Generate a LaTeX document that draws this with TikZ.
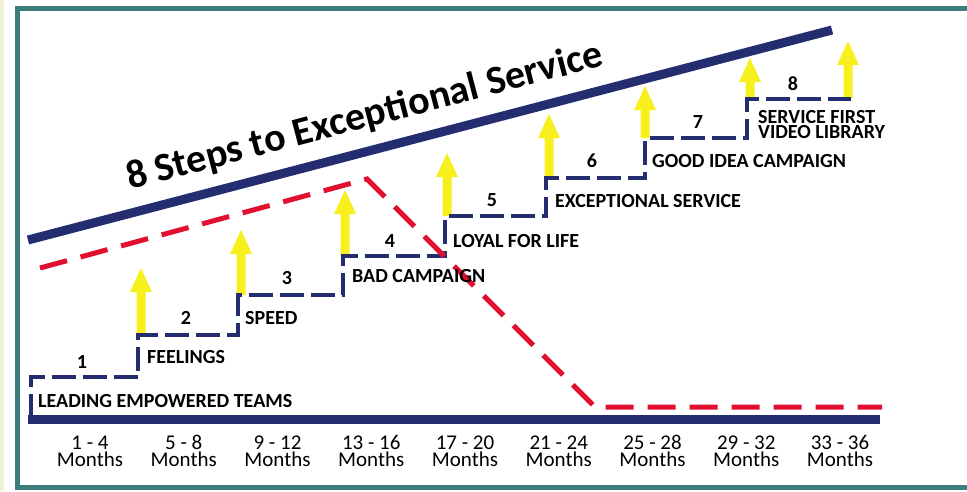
\documentclass[tikz,border=0pt]{standalone}
\usepackage{fontspec}
\setmainfont{Carlito}
\definecolor{navy}{RGB}{35,45,112}
\definecolor{framet}{RGB}{58,125,122}
\definecolor{beige}{RGB}{242,240,212}
\definecolor{redd}{RGB}{226,16,48}
\definecolor{ylw}{RGB}{248,240,30}
\begin{document}
\begin{tikzpicture}[x=1pt,y=-1pt,
  steplbl/.style={font=\bfseries\fontsize{20}{15}\selectfont, anchor=west, inner sep=0pt, text=black},
  stepnum/.style={font=\bfseries\fontsize{20}{20}\selectfont, inner sep=0pt, text=black},
  monthlbl/.style={font=\fontsize{21}{20}\selectfont, inner sep=0pt, align=center, text=black},
  stairs/.style={draw=navy, line width=4pt, dash pattern=on 24pt off 7pt},
  reddash/.style={draw=redd, line width=5pt, dash pattern=on 28pt off 14pt},
  bar/.style={draw=navy, line width=9pt}]
\useasboundingbox (0,0) rectangle (967,491);
\fill[beige] (0,0) rectangle (4,491);
\begin{scope}
  \clip (0,0) rectangle (967,491);
  \draw[framet, line width=5pt] (17.5,8.5) rectangle (995,487.5);
\end{scope}

% top line
\coordinate (tl) at (28,240);
\coordinate (tr) at (832,30);
\draw[navy, line width=9pt] (tl) -- (tr);

% title
\node[rotate=14.7, font=\bfseries\fontsize{40}{40}\selectfont, inner sep=0pt] (title) at (365,117) {8 Steps to Exceptional Service};

% yellow arrows
\foreach \x/\b/\t in {141/335/268, 241/295/230, 345/256/190, 447/216/153, 549/178/114, 645/138/86, 750/99/58, 848/99/41}{
  \fill[ylw] (\x-4.5,\b) -- (\x-4.5,\t+24) -- (\x-11,\t+24) -- (\x,\t) -- (\x+11,\t+24) -- (\x+4.5,\t+24) -- (\x+4.5,\b) -- cycle;
}

% staircase
\coordinate (s0) at (30.5,418);
\coordinate (s1a) at (30.5,377);
\coordinate (s1b) at (138,377);
\coordinate (s2a) at (138,335);
\coordinate (s2b) at (238,335);
\coordinate (s3a) at (238,295);
\coordinate (s3b) at (343,295);
\coordinate (s4a) at (343,256);
\coordinate (s4b) at (445,256);
\coordinate (s5a) at (445,216);
\coordinate (s5b) at (546,216);
\coordinate (s6a) at (546,178);
\coordinate (s6b) at (645,178);
\coordinate (s7a) at (645,138);
\coordinate (s7b) at (747,138);
\coordinate (s8a) at (747,99);
\coordinate (s8b) at (851,99);
\draw[stairs] (s0) -- (s1a) -- (s1b) -- (s2a) -- (s2b) -- (s3a) -- (s3b) -- (s4a) -- (s4b) -- (s5a) -- (s5b) -- (s6a) -- (s6b) -- (s7a) -- (s7b) -- (s8a) -- (s8b);

% bottom bar
\coordinate (bl) at (28,419);
\coordinate (br) at (880,419);
\draw[bar] (bl) -- (br);

% red dashed
\coordinate (r0) at (40,268);
\coordinate (r1) at (367,179);
\coordinate (r2) at (595,407);
\coordinate (r3) at (882,407);
\draw[reddash] (r0) -- (r1) -- (r2) -- (r3);

% step labels
\node[steplbl] (l1) at (38,401) {LEADING EMPOWERED TEAMS};
\node[steplbl] (l2) at (147,357) {FEELINGS};
\node[steplbl] (l3) at (245,318) {SPEED};
\node[steplbl] (l4) at (352,276) {BAD CAMPAIGN};
\node[steplbl] (l5) at (453,241) {LOYAL FOR LIFE};
\node[steplbl] (l6) at (555,201) {EXCEPTIONAL SERVICE};
\node[steplbl] (l7) at (652,161) {GOOD IDEA CAMPAIGN};
\node[steplbl, align=left] (l8) at (758,125) {SERVICE FIRST\\VIDEO LIBRARY};

% step numbers
\node[stepnum] (n1) at (82,362) {1};
\node[stepnum] (n2) at (186,318) {2};
\node[stepnum] (n3) at (287,278) {3};
\node[stepnum] (n4) at (390,241) {4};
\node[stepnum] (n5) at (492,200) {5};
\node[stepnum] (n6) at (592,161) {6};
\node[stepnum] (n7) at (698,122) {7};
\node[stepnum] (n8) at (793,84) {8};

% months
\foreach \i/\lab in {0/1 - 4, 1/5 - 8, 2/9 - 12, 3/13 - 16, 4/17 - 20, 5/21 - 24, 6/25 - 28, 7/29 - 32, 8/33 - 36}{
  \node[monthlbl] (m\i) at (90+93.75*\i,451) {\lab\\[-3pt]Months};
}
\end{tikzpicture}
\end{document}
